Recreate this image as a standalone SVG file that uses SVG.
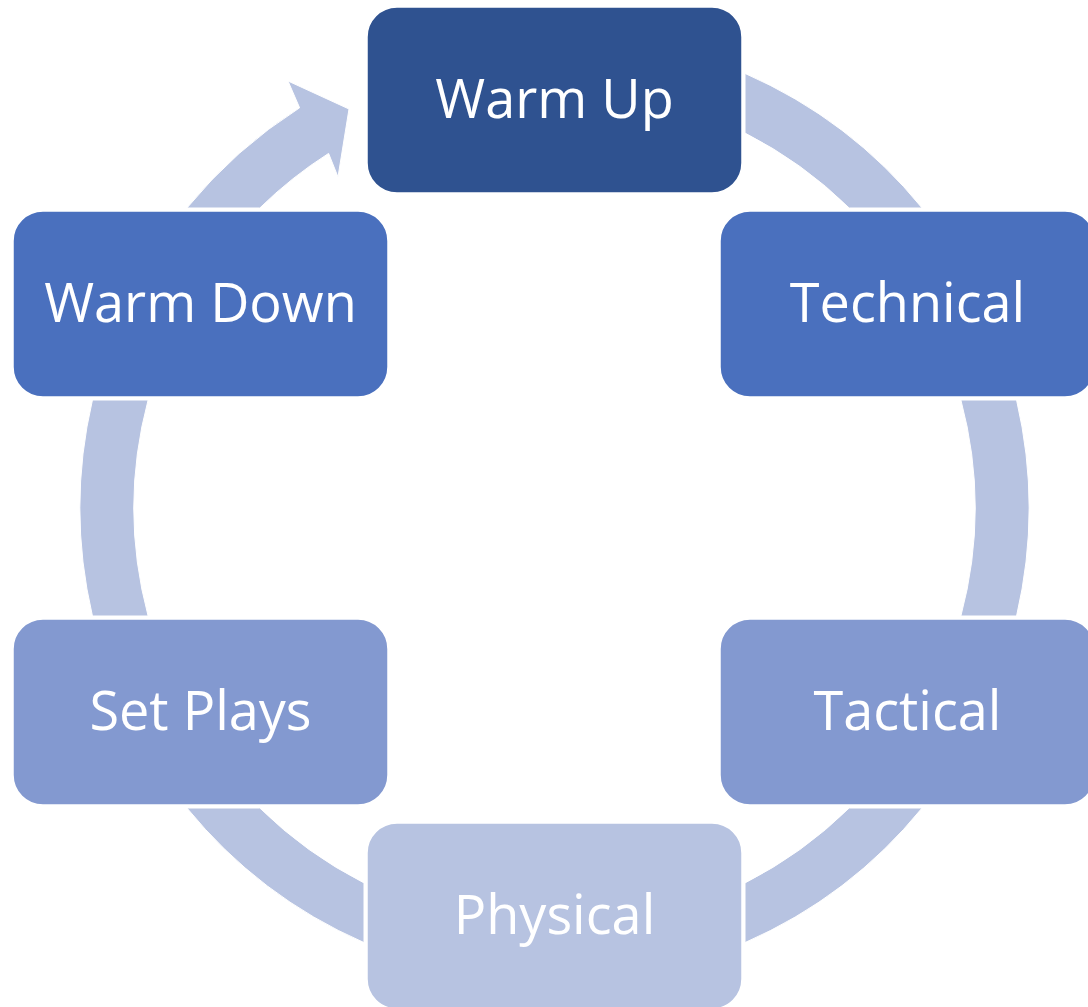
<svg xmlns="http://www.w3.org/2000/svg" width="1088" height="1007" viewBox="0 0 1088 1007">
  <style>
    .seg { fill: #B7C3E1; stroke: #ffffff; stroke-width: 1; }
    .box { stroke: #ffffff; stroke-width: 1.5; }
    .lbl { fill: #ffffff; font-family: "Open Sans", "Liberation Sans", sans-serif; font-size: 54px; text-anchor: middle; }
  </style>
  <rect width="1088" height="1007" fill="#ffffff"/>
  <g id="connectors">
    <path class="seg" d="M745,73.4 A474.5,474.5 0 0 1 922.1,208 L849.2,208 A420.5,420.5 0 0 0 745,133.1 Z"/>
    <path class="seg" d="M1016.55,400 A474.5,474.5 0 0 1 1016.55,616 L960.9,616 A420.5,420.5 0 0 0 960.9,400 Z"/>
    <path class="seg" d="M922.1,808 A474.5,474.5 0 0 1 745,942.6 L745,882.9 A420.5,420.5 0 0 0 849.2,808 Z"/>
    <path class="seg" d="M364,942.6 A474.5,474.5 0 0 1 186.9,808 L259.8,808 A420.5,420.5 0 0 0 364,882.9 Z"/>
    <path class="seg" d="M92.45,616 A474.5,474.5 0 0 1 92.45,400 L148.1,400 A420.5,420.5 0 0 0 148.1,616 Z"/>
    <path class="seg" d="M186.9,208 A474.5,474.5 0 0 1 299.6,107.8 L288,81 L349,109 L338,177 L328.6,153.4 A420.5,420.5 0 0 0 259.8,208 Z"/>
  </g>
  <g id="warm-up">
    <rect class="box" x="367" y="7" width="375" height="186" rx="30" fill="#2F5290"/>
    <text class="lbl" x="554.5" y="118">Warm Up</text>
  </g>
  <g id="technical">
    <rect class="box" x="720" y="211" width="375" height="186" rx="30" fill="#4A70BE"/>
    <text class="lbl" x="907.5" y="322">Technical</text>
  </g>
  <g id="tactical">
    <rect class="box" x="720" y="619" width="375" height="186" rx="30" fill="#8399D0"/>
    <text class="lbl" x="907.5" y="730">Tactical</text>
  </g>
  <g id="physical">
    <rect class="box" x="367" y="823" width="375" height="186" rx="30" fill="#B7C3E1"/>
    <text class="lbl" x="554.5" y="934">Physical</text>
  </g>
  <g id="set-plays">
    <rect class="box" x="13" y="619" width="375" height="186" rx="30" fill="#8399D0"/>
    <text class="lbl" x="200.5" y="730">Set Plays</text>
  </g>
  <g id="warm-down">
    <rect class="box" x="13" y="211" width="375" height="186" rx="30" fill="#4A70BE"/>
    <text class="lbl" x="200.5" y="322">Warm Down</text>
  </g>
</svg>
